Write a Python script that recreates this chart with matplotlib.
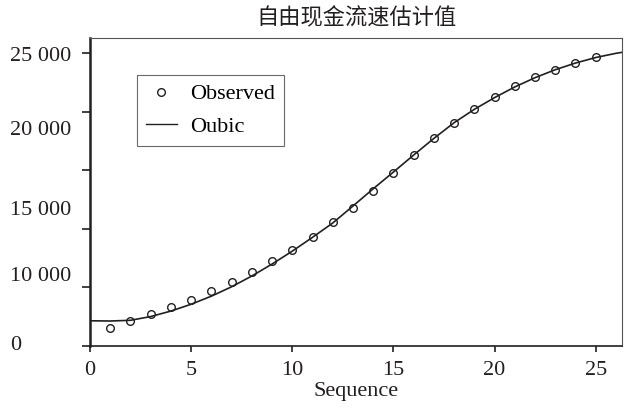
import matplotlib.pyplot as plt
from matplotlib.lines import Line2D
from matplotlib.transforms import blended_transform_factory

# observed values, one per sequence step
seq = list(range(1, 26))
observed = [1510, 2107, 2730, 3327, 3950, 4692, 5485, 6338, 7225, 8214,
            9323, 10552, 11797, 13247, 14731, 16267, 17717, 19065, 20216, 21265,
            22204, 22946, 23543, 24140, 24677]

# cubic curve
fit_x = list(range(0, 27)) + [26.3]
fit_y = [2160, 2140, 2200, 2520, 2990, 3570, 4260, 5060, 5980, 7000,
         8100, 9280, 10500, 11950, 13420, 14850, 16300, 17720, 19060, 20200,
         21200, 22110, 22900, 23580, 24150, 24620, 24980, 25060]

xticks = [0, 5, 10, 15, 20, 25]
yticks = [0, 5000, 10000, 15000, 20000, 25000]
# the source prints its y labels off the tick marks
ylabel_text = ["0", "10 000", "15 000", "20 000", "25 000"]
ylabel_at = [85, 5970, 11600, 18430, 24740]

ink = "#231f20"
serif = ["Liberation Serif", "DejaVu Serif"]

fig = plt.figure(figsize=(6.25, 4.13), dpi=100)
ax = fig.add_axes([0.144, 0.162, 0.8512, 0.7458])

ax.plot(fit_x, fit_y, color=ink, lw=1.2)
ax.plot(seq, observed, "o", mfc="none", mec=ink, ms=5.5, mew=1.0)

ax.set_xlim(0, 26.3)
ax.set_ylim(0, 26280)
ax.set_xticks(xticks)
ax.set_xticklabels([str(t) for t in xticks], fontfamily=serif, fontsize=16, color=ink)
ax.set_yticks(yticks)
ax.set_yticklabels([])
ax.tick_params(axis="x", length=4, width=1.2, pad=7, color=ink)
ax.tick_params(axis="y", length=6, width=1.2, color=ink)

tr = blended_transform_factory(fig.transFigure, ax.transData)
for txt, yv in zip(ylabel_text, ylabel_at):
    ax.text(10 / 625, yv, txt, transform=tr, ha="left", va="center",
            fontfamily=serif, fontsize=16, color=ink)

ax.spines["left"].set_linewidth(1.8)
ax.spines["bottom"].set_linewidth(1.2)
for s in ["top", "right"]:
    ax.spines[s].set_linewidth(0.8)
    ax.spines[s].set_color("#555555")
for s in ["left", "bottom"]:
    ax.spines[s].set_color(ink)

ax.set_xlabel("Sequence", fontfamily=serif, fontsize=16, color=ink, labelpad=1)
ax.set_title("自由现金流速估计值", fontfamily=["Noto Sans CJK SC", "DejaVu Sans"],
             fontsize=16, color=ink, pad=10)

handles = [Line2D([], [], ls="none", marker="o", mfc="none", mec=ink, ms=5.5, mew=1.0),
           Line2D([], [], color=ink, lw=1.0)]
leg = ax.legend(handles, ["Observed", "Oubic"], loc="upper left",
                bbox_to_anchor=(0.088, 0.88), borderaxespad=0,
                prop={"family": serif, "size": 16}, frameon=True, fancybox=False,
                edgecolor="#444444", handlelength=1.4, handletextpad=0.6,
                labelspacing=0.55, borderpad=0.4)
leg.get_frame().set_linewidth(0.8)

fig.savefig("out.png", dpi=100)
